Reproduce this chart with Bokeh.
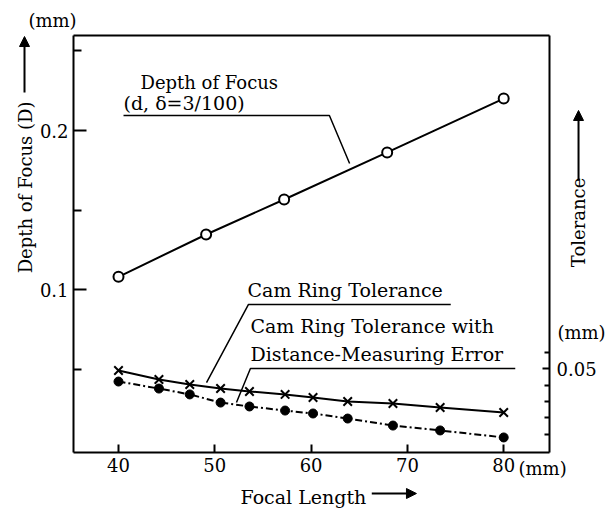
import numpy as np
from bokeh.plotting import figure
from bokeh.models import Range1d, LinearAxis, FixedTicker, Label, Arrow, NormalHead
from bokeh.embed import file_html
from bokeh.resources import INLINE

# ---- data ----
dof_focal = [40, 49.1, 57.2, 67.9, 80]
dof_depth = [0.108, 0.1346, 0.1566, 0.1862, 0.2201]

tol_focal = [40, 44.2, 47.4, 50.6, 53.6, 57.3, 60.2, 63.8, 68.5, 73.4, 80]
cam_tol = [0.0491, 0.0436, 0.0405, 0.0380, 0.0362, 0.0344, 0.0325, 0.0301, 0.0288, 0.0264, 0.0233]
cam_tol_err = [0.0423, 0.0380, 0.0344, 0.0294, 0.0270, 0.0245, 0.0227, 0.0196, 0.0153, 0.0123, 0.0080]

x_ticks = [40, 50, 60, 70, 80]
left_major = [0.1, 0.2]
left_minor = [0.05, 0.15, 0.25]
right_major = [0.05]
right_minor = [0.01, 0.02, 0.03, 0.04, 0.06]

# plot box (axis extents) in data units
X0, X1 = 35.33, 84.76
YL0, YL1 = -0.0025, 0.2597
YR0, YR1 = -0.0012, 0.2546

FONT = "DejaVu Serif"
FS = "18px"

# the frame covers the whole canvas; the axes are placed inside it at fixed locations
p = figure(width=616, height=509,
           x_range=Range1d(27.747, 91.713), y_range=Range1d(-0.03836, 0.28176),
           output_backend="svg", toolbar_location=None, min_border=0,
           x_axis_type=None, y_axis_type=None)
p.extra_y_ranges = {"right": Range1d(-0.0362, 0.27607)}
p.outline_line_color = None
p.background_fill_color = "white"
p.border_fill_color = "white"


def style(ax):
    ax.major_label_text_font = FONT
    ax.major_label_text_font_size = FS
    ax.major_label_text_color = "black"
    ax.axis_line_color = "black"
    ax.axis_line_width = 2
    ax.major_tick_line_color = "black"
    ax.minor_tick_line_color = "black"
    ax.major_tick_line_width = 2
    ax.minor_tick_line_width = 2
    ax.major_tick_out = 0
    ax.minor_tick_out = 0


xa = LinearAxis(ticker=FixedTicker(ticks=x_ticks), fixed_location=YL0, bounds=(X0, X1))
style(xa)
xa.major_tick_in = 8
xa.minor_tick_in = 0
xa.major_label_standoff = 6
p.add_layout(xa, "below")

ta = LinearAxis(ticker=FixedTicker(ticks=[]), fixed_location=YL1, bounds=(X0, X1))
style(ta)
ta.major_label_text_font_size = "0px"
p.add_layout(ta, "above")

ya = LinearAxis(ticker=FixedTicker(ticks=left_major, minor_ticks=left_minor),
                fixed_location=X0, bounds=(YL0, YL1))
style(ya)
ya.major_tick_in = 13
ya.minor_tick_in = 8
ya.major_label_standoff = 5
ya.major_label_overrides = {0.1: "0.1", 0.2: "0.2"}
p.add_layout(ya, "left")

ra = LinearAxis(y_range_name="right",
                ticker=FixedTicker(ticks=right_major, minor_ticks=right_minor),
                fixed_location=X1, bounds=(YR0, YR1))
style(ra)
ra.major_tick_in = 7
ra.minor_tick_in = 5
ra.major_label_standoff = 7
ra.major_label_overrides = {0.05: "0.05"}
p.add_layout(ra, "right")

# ---- series ----
p.line(dof_focal, dof_depth, line_color="black", line_width=2)
p.scatter(dof_focal, dof_depth, marker="circle", size=10, line_color="black",
          line_width=2, fill_color="white")

p.line(tol_focal, cam_tol, line_color="black", line_width=2, y_range_name="right")
p.scatter(tol_focal, cam_tol, marker="x", size=12, line_color="black",
          line_width=2, y_range_name="right")

p.line(tol_focal, cam_tol_err, line_color="black", line_width=2,
       line_dash="7 3 2 3", y_range_name="right")
p.scatter(tol_focal, cam_tol_err, marker="circle", size=9, line_color="black",
          fill_color="black", y_range_name="right")

# ---- leader lines ----
p.line([40.52, 61.9, 64.0], [0.2094, 0.2094, 0.1792], line_color="black", line_width=1.5)
p.line([74.5, 53.5, 49.14], [0.0896, 0.0896, 0.0417], line_color="black", line_width=1.5,
       y_range_name="right")
p.line([81.2, 53.7, 52.25], [0.0503, 0.0503, 0.0294], line_color="black", line_width=1.5,
       y_range_name="right")


def lab(x, y, text, align="left", angle=0.0, rng="default", size=FS):
    p.add_layout(Label(x=x, y=y, text=text, text_font=FONT, text_font_size=size,
                       text_color="black", text_align=align, text_baseline="middle",
                       angle=angle, y_range_name=rng))


lab(42.28, 0.2302, "Depth of Focus")
lab(40.52, 0.2170, "(d, \u03b4=3/100)", size="19px")
lab(53.4, 0.0982, "Cam Ring Tolerance", rng="right", size="19px")
lab(53.7, 0.0761, "Cam Ring Tolerance with", rng="right", size="19px")
lab(53.7, 0.0589, "Distance-Measuring Error", rng="right", size="19px")

lab(33.15, 0.2692, "(mm)", align="center")
lab(30.34, 0.1642, "Depth of Focus (D)", align="center", angle=np.pi / 2)
lab(87.77, 0.1399, "Tolerance", align="center", angle=np.pi / 2, rng="right")
lab(88.08, 0.0724, "(mm)", align="center", rng="right")
lab(52.67, -0.0302, "Focal Length", size="19px")
lab(81.54, -0.0126, "(mm)")

head = dict(size=10, fill_color="black", line_color="black")
p.add_layout(Arrow(end=NormalHead(**head), x_start=30.24, y_start=0.2239,
                   x_end=30.24, y_end=0.2591, line_width=2))
p.add_layout(Arrow(end=NormalHead(**head), x_start=87.77, y_start=0.1656,
                   x_end=87.77, y_end=0.2086, line_width=2, y_range_name="right"))
p.add_layout(Arrow(end=NormalHead(**head), x_start=66.3, y_start=-0.0283,
                   x_end=70.94, y_end=-0.0283, line_width=2))

open("out.html", "w").write(file_html(p, INLINE))
